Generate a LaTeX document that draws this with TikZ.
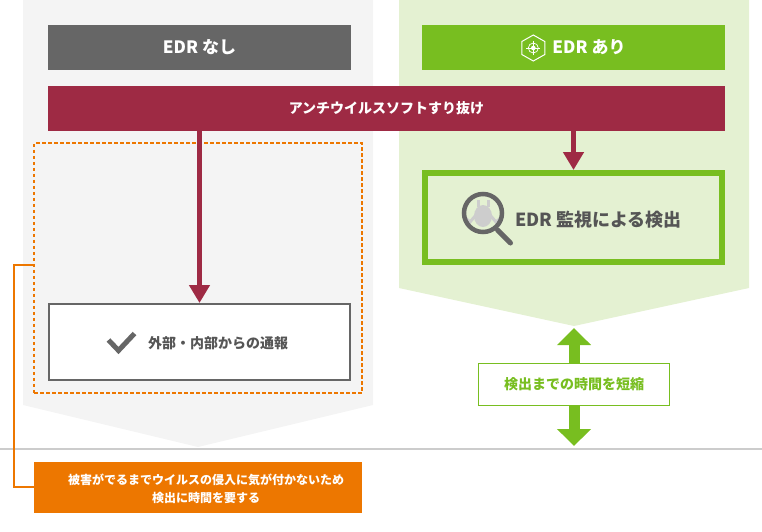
\documentclass[tikz,border=0pt]{standalone}
\usepackage{fontspec}
\setmainfont{Noto Sans CJK JP}
\usetikzlibrary{arrows.meta}
\definecolor{panelgray}{HTML}{F4F4F4}
\definecolor{panelgreen}{HTML}{E4F1D2}
\definecolor{edrgreen}{HTML}{78BE20}
\definecolor{darkgray}{HTML}{666666}
\definecolor{wine}{HTML}{9E2A44}
\definecolor{alert}{HTML}{ED7700}
\definecolor{rulegray}{HTML}{CCCCCC}
\definecolor{bodytext}{HTML}{555555}
\definecolor{bug}{HTML}{CDCDCD}
\tikzset{
  band/.style={minimum height=45pt, inner sep=0pt, text=white, font=\bfseries\fontsize{17}{20}\selectfont},
  winearrow/.style={line width=5.5pt, wine, -{Triangle[length=18pt, width=20pt]}},
  greenarrow/.style={line width=11pt, edrgreen, -{Triangle[length=17pt, width=33pt]}},
  alertline/.style={line width=2pt, alert},
}
\begin{document}
\begin{tikzpicture}[x=1pt, y=-1pt]
    \useasboundingbox (0, 0) rectangle (762, 531);

    \fill [panelgray] (23, 0) -- (373, 0) -- (373, 405) -- (198, 447) -- (23, 405) -- cycle;
    \fill [panelgreen] (399, 0) -- (749, 0) -- (749, 288) -- (574, 326) -- (399, 288) -- cycle;
    \draw [rulegray, line width=2pt] (0, 449) -- (762, 449);

    \node (nonehead) [band, fill=darkgray, minimum width=303pt] at (199.5, 47.5) {EDR なし};
    \node (edrhead) [band, fill=edrgreen, minimum width=303pt] at (573.5, 47.5) {};
    \node (edrlabel) [text=white, font=\bfseries\fontsize{17}{20}\selectfont] at (589, 47.5) {EDR あり};
    \node (slipband) [band, fill=wine, minimum width=677pt, font=\bfseries\fontsize{14}{17}\selectfont] at (386.5, 108.5) {アンチウイルスソフトすり抜け};

    \node (dotbox) [draw=alert, line width=2pt, dash pattern=on 3.5pt off 2.5pt, minimum width=328pt, minimum height=249.5pt, inner sep=0pt] at (198.3, 268.2) {};
    \node (report) [draw=darkgray, fill=white, line width=2pt, minimum width=301pt, minimum height=76pt, inner sep=0pt] at (199.5, 342) {};
    \node (reportlabel) [text=bodytext, font=\bfseries\fontsize{14}{17}\selectfont] at (218, 343) {外部・内部からの通報};
    \node (detect) [draw=edrgreen, line width=6pt, minimum width=297pt, minimum height=89pt, inner sep=0pt] at (573.5, 217.5) {};
    \node (detectlabel) [text=bodytext, font=\bfseries\fontsize{18}{21}\selectfont] at (598.5, 220) {EDR 監視による検出};

    \draw [winearrow] (report.north |- slipband.south) -- (report.north);
    \draw [winearrow] (detect.north |- slipband.south) -- (detect.north);

    \node (timebox) [draw=edrgreen, fill=white, line width=1pt, text=edrgreen, minimum width=191pt, minimum height=42pt, inner sep=0pt, font=\bfseries\fontsize{14}{17}\selectfont] at (574, 384.5) {検出までの時間を短縮};
    \coordinate (uptip) at (574, 328);
    \coordinate (downtip) at (574, 446);
    \draw [greenarrow] (timebox.north) -- (uptip);
    \draw [greenarrow] (timebox.south) -- (downtip);

    \node (note) [fill=alert, minimum width=328pt, minimum height=51pt, inner sep=0pt] at (198, 487) {};
    \node (notelabel) [text=white, align=center, font=\bfseries\fontsize{12}{18}\selectfont] at (206, 488.5) {被害がでるまでウイルスの侵入に気が付かないため\\検出に時間を要する};
    \coordinate (elbow) at (14, 265);
    \draw [alertline] (dotbox.west |- elbow) -- (elbow) -- (elbow |- note.west) -- (note.west);

    % check mark
    \draw [darkgray, line width=5pt] (108.5, 340) -- (118.5, 350.5) -- (134.5, 333.5);

    % magnifier
    \pgfmathsetmacro{\xm}{483};
    \pgfmathsetmacro{\ym}{213};
    \begin{scope}
      \clip (\xm, \ym) circle (19);
      \fill [bug] (\xm, \ym + 3) ellipse (9 and 11);
      \draw [bug, line width=3pt] (\xm - 5, \ym - 6) -- (\xm - 5, \ym - 13);
      \draw [bug, line width=3pt] (\xm + 5, \ym - 6) -- (\xm + 5, \ym - 13);
      \draw [bug, line width=3pt] (\xm - 7, \ym + 2) -- (\xm - 13, \ym + 9) -- (\xm - 20, \ym + 3);
      \draw [bug, line width=3pt] (\xm + 7, \ym + 2) -- (\xm + 13, \ym + 9) -- (\xm + 20, \ym + 3);
    \end{scope}
    \draw [darkgray, line width=4.5pt] (\xm, \ym) circle (19);
    \draw [darkgray, line width=5pt, line cap=round] (\xm + 14.5, \ym + 17) -- (\xm + 27.5, \ym + 30);

    % target icon
    \pgfmathsetmacro{\xh}{533.3};
    \pgfmathsetmacro{\yh}{48};
    \draw [white, line width=1pt] (\xh, \yh - 13) -- (\xh + 11.5, \yh - 6.5) -- (\xh + 11.5, \yh + 6.5) -- (\xh, \yh + 13) -- (\xh - 11.5, \yh + 6.5) -- (\xh - 11.5, \yh - 6.5) -- cycle;
    \draw [white, line width=0.7pt] (\xh, \yh) circle (5);
    \fill [white] (\xh, \yh) circle (2.3);
    \draw [white, line width=0.7pt] (\xh - 7, \yh) -- (\xh + 7, \yh);
    \draw [white, line width=0.7pt] (\xh, \yh - 7) -- (\xh, \yh + 7);

\end{tikzpicture}
\end{document}
